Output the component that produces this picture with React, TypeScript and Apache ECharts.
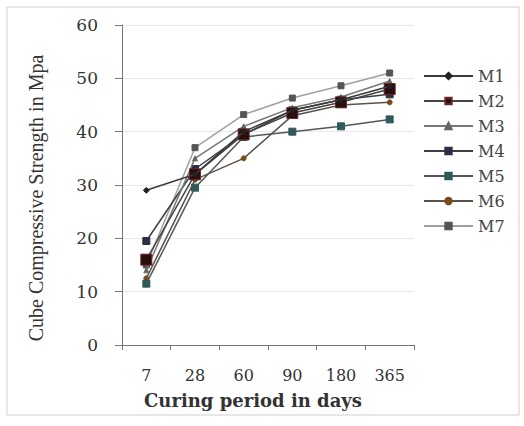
import React, { useEffect, useRef } from "react";
import * as echarts from "echarts";

const categories = ["7", "28", "60", "90", "180", "365"];
const seriesNames = ["M1", "M2", "M3", "M4", "M5", "M6", "M7"];
const m1 = [29, 32, 40, 44, 46, 48.5];
const m2 = [16, 32, 39.5, 43.5, 45.5, 48];
const m3 = [14, 35, 41, 44.5, 46.5, 49.5];
const m4 = [19.5, 33, 39.5, 44, 46, 47];
const m5 = [11.5, 29.5, 39, 40, 41, 42.3];
const m6 = [12.5, 31, 35, 43, 45, 45.5];
const m7 = [15, 37, 43.2, 46.3, 48.6, 51];
const yTitle = "Cube Compressive Strength in Mpa";
const xTitle = "Curing period in days";

const FONT = "DejaVu Serif";

export default function App() {
  const ref = useRef<HTMLDivElement>(null);
  useEffect(() => {
    if (!ref.current) return;
    const chart = echarts.init(ref.current, null, { renderer: "svg" });
    const data = [m1, m2, m3, m4, m5, m6, m7];
    const styles = [
      { color: "#3a3a3a", symbol: "diamond", size: 6, fill: "#222" },
      { color: "#444", symbol: "rect", size: 11, fill: "#2a0d0d", border: "#6b2a2a" },
      { color: "#777", symbol: "triangle", size: 5, fill: "#666" },
      { color: "#3d3d48", symbol: "rect", size: 7, fill: "#2a2f45" },
      { color: "#4f5757", symbol: "rect", size: 7, fill: "#2f5a5a" },
      { color: "#5d5048", symbol: "circle", size: 5, fill: "#7a4a1a" },
      { color: "#a0a0a0", symbol: "rect", size: 6, fill: "#555" },
    ];
    chart.setOption({
      animation: false,
      backgroundColor: "#ffffff",
      graphic: [
        {
          type: "rect",
          shape: { x: 7, y: 7, width: 512, height: 408 },
          style: { fill: "none", stroke: "#cfcfcf", lineWidth: 1 },
          silent: true,
        },
        {
          type: "text",
          x: 36,
          y: 198,
          rotation: Math.PI / 2,
          style: {
            text: yTitle,
            fontFamily: "Liberation Serif",
            fontSize: 20,
            fill: "#333",
            align: "center",
            verticalAlign: "middle",
          },
          silent: true,
        },
      ],
      grid: { left: 122, right: 110, top: 25, bottom: 81 },
      legend: {
        orient: "vertical",
        left: 418,
        top: 63,
        itemWidth: 49,
        itemHeight: 8,
        itemGap: 9,
        data: seriesNames,
        textStyle: { fontFamily: FONT, fontSize: 16, color: "#444" },
      },
      xAxis: {
        type: "category",
        data: categories,
        boundaryGap: true,
        axisLine: { lineStyle: { color: "#777", width: 1 } },
        axisTick: { show: true, length: 5, lineStyle: { color: "#777" } },
        axisLabel: { fontFamily: FONT, fontSize: 16, color: "#333", margin: 22 },
        name: xTitle,
        nameLocation: "middle",
        nameGap: 46,
        nameTextStyle: {
          fontFamily: FONT,
          fontSize: 18,
          fontWeight: "bold",
          color: "#333",
          padding: [0, 30, 0, 0],
        },
      },
      yAxis: {
        type: "value",
        min: 0,
        max: 60,
        interval: 10,
        axisLine: { show: true, lineStyle: { color: "#777", width: 1 } },
        axisTick: { show: true, length: 7, lineStyle: { color: "#777" } },
        axisLabel: { fontFamily: FONT, fontSize: 17, color: "#333", margin: 24 },
        splitLine: { show: true, lineStyle: { color: "#e8e8e8" } },
      },
      series: seriesNames.map((name, i) => ({
        name,
        type: "line",
        data: data[i],
        symbol: styles[i].symbol,
        symbolSize: styles[i].size,
        showSymbol: true,
        lineStyle: { color: styles[i].color, width: 1.5 },
        itemStyle: {
          color: styles[i].fill,
          borderColor: styles[i].border || styles[i].fill,
          borderWidth: 1,
        },
        z: 10 - i,
      })),
    });
    return () => chart.dispose();
  }, []);
  return (
    <div
      ref={ref}
      style={{ position: "absolute", left: 0, top: 0, width: 524, height: 426 }}
    />
  );
}
